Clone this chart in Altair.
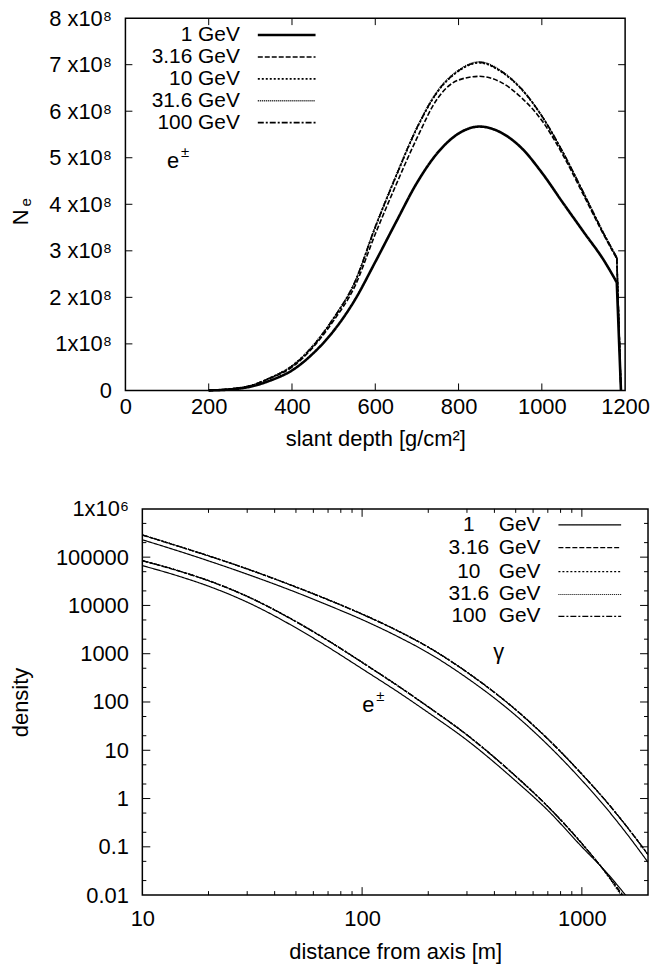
import altair as alt
import pandas as pd

FONT = "Liberation Sans"

# ---------------- data: top panel (e+- longitudinal profile) ----------------
ENERGIES = ["1 GeV", "3.16 GeV", "10 GeV", "31.6 GeV", "100 GeV"]
DEPTH = [200, 250, 300, 350, 400, 450, 500, 550, 600, 650, 700, 750, 800,
         850, 900, 950, 1000, 1050, 1100, 1150, 1180, 1190]
NE_1 = [0, 0.02e8, 0.08e8, 0.22e8, 0.43e8, 0.79e8, 1.28e8, 1.93e8, 2.76e8, 3.62e8,
        4.46e8, 5.11e8, 5.52e8, 5.67e8, 5.55e8, 5.22e8, 4.68e8, 4.04e8, 3.41e8,
        2.78e8, 2.32e8, 0]
NE_316 = [0, 0.03e8, 0.10e8, 0.27e8, 0.50e8, 0.92e8, 1.50e8, 2.22e8, 3.36e8, 4.42e8,
          5.42e8, 6.28e8, 6.67e8, 6.75e8, 6.63e8, 6.30e8, 5.80e8, 5.07e8, 4.20e8,
          3.32e8, 2.83e8, 0]
NE_10 = [0, 0.03e8, 0.10e8, 0.28e8, 0.52e8, 0.95e8, 1.55e8, 2.30e8, 3.50e8, 4.60e8,
         5.63e8, 6.42e8, 6.86e8, 7.04e8, 6.86e8, 6.48e8, 5.89e8, 5.12e8, 4.24e8,
         3.34e8, 2.84e8, 0]
NE_316B = [0, 0.03e8, 0.10e8, 0.28e8, 0.53e8, 0.96e8, 1.56e8, 2.31e8, 3.52e8, 4.62e8,
           5.65e8, 6.44e8, 6.88e8, 7.06e8, 6.88e8, 6.49e8, 5.90e8, 5.13e8, 4.25e8,
           3.35e8, 2.85e8, 0]
NE_100 = [0, 0.03e8, 0.10e8, 0.28e8, 0.52e8, 0.95e8, 1.55e8, 2.31e8, 3.51e8, 4.61e8,
          5.64e8, 6.43e8, 6.87e8, 7.05e8, 6.87e8, 6.49e8, 5.90e8, 5.13e8, 4.25e8,
          3.35e8, 2.86e8, 0]
TOP_SERIES = [NE_1, NE_316, NE_10, NE_316B, NE_100]

# ---------------- data: bottom panel (lateral densities) ----------------
R_GAMMA = [10, 15, 20, 30, 50, 70, 100, 150, 200, 300, 500, 700, 1000, 1300, 1600, 2000]
GAMMA_1 = [229100, 128800, 83750, 44360, 18710, 10090, 5082, 2104, 1040, 314.8, 52.6,
           12.88, 2.382, 0.611, 0.187, 0.0479]
GAMMA_316 = [285500, 160600, 105600, 56580, 23860, 13020, 6556, 2745, 1357, 410.9, 68.6,
             17.01, 3.18, 0.835, 0.261, 0.0685]
GAMMA_10 = [288400, 162200, 106700, 57150, 24100, 13150, 6622, 2773, 1371, 415.0, 69.3,
            17.18, 3.214, 0.843, 0.264, 0.0692]
GAMMA_316B = [289800, 163000, 107200, 57440, 24220, 13220, 6655, 2787, 1378, 417.1, 69.6,
              17.27, 3.23, 0.847, 0.265, 0.0695]
GAMMA_100 = [289000, 162500, 106900, 57260, 24150, 13180, 6635, 2779, 1374, 415.8, 69.4,
             17.21, 3.22, 0.845, 0.2645, 0.0693]
GAMMA_SERIES = [GAMMA_1, GAMMA_316, GAMMA_10, GAMMA_316B, GAMMA_100]

R_EPM = [10, 15, 20, 30, 50, 70, 100, 150, 200, 300, 500, 700, 1000, 1300, 1600]
EPM_1 = [66830, 38990, 25060, 11690, 3436, 1371, 486.4, 147.6, 60.26, 16.18, 2.312, 0.5702,
         0.0998, 0.0289, 0.00933]
EPM_316 = [84260, 49730, 32330, 15270, 4588, 1852, 657.1, 194.8, 78.6, 20.63, 2.882, 0.6786,
           0.1160, 0.0275, 0.0078]
EPM_10 = [85110, 50230, 32660, 15420, 4634, 1871, 663.7, 196.8, 79.4, 20.84, 2.911, 0.6855,
          0.1172, 0.02698, 0.007015]
EPM_316B = [85540, 50480, 32820, 15500, 4657, 1880, 667.0, 197.8, 79.8, 20.94, 2.926, 0.689,
            0.1178, 0.0265, 0.0065]
EPM_100 = [85280, 50330, 32730, 15450, 4643, 1875, 665.0, 197.2, 79.6, 20.88, 2.917, 0.6869,
           0.1174, 0.0272, 0.0072]
EPM_SERIES = [EPM_1, EPM_316, EPM_10, EPM_316B, EPM_100]

# ---------------- tick values ----------------
TOP_X_LABELS = [0, 200, 400, 600, 800, 1000, 1200]
TOP_Y_LABELS = [0, 1e8, 2e8, 3e8, 4e8, 5e8, 6e8, 7e8, 8e8]
BOT_X_LABELS = [10, 100, 1000]
BOT_X_MINOR = [20, 30, 40, 50, 60, 70, 80, 90, 200, 300, 400, 500, 600, 700, 800, 900]
BOT_Y_LABELS = [0.01, 0.1, 1, 10, 100, 1000, 10000, 100000, 1000000]
BOT_Y_MINOR = [0.02, 0.05, 0.2, 0.5, 2, 5, 20, 50, 200, 500, 2000, 5000,
               20000, 50000, 200000, 500000]

# ---------------- styles ----------------
DASHES = [[1, 0], [5, 2], [2, 2], [1, 1], [6, 2, 2, 2]]
TOP_WIDTHS = [2.6, 1.6, 1.6, 1.6, 1.6]
BOT_WIDTHS = [1.2, 1.2, 1.2, 1.2, 1.2]

W1, H1 = 502, 374
SHIFT = 17                 # bottom frame starts this far right of the top frame
W2, H2 = 508, 388
W2V = W2 + SHIFT

top_x = alt.Scale(domain=[0, 1200], nice=False, zero=False)
top_y = alt.Scale(domain=[0, 8e8], nice=False)
bot_x = alt.Scale(type="log", domain=[10, 2000], nice=False, range=[SHIFT, W2V])
bot_y = alt.Scale(type="log", domain=[0.01, 1e6], nice=False)

TOP_XAX = alt.Axis(values=TOP_X_LABELS, format="d", title="slant depth [g/cm²]",
                   ticks=False, domain=False, grid=False, labelFlush=False,
                   labelPadding=6, titlePadding=11)
TOP_YAX = alt.Axis(values=TOP_Y_LABELS, title=None, ticks=False, domain=False, grid=False,
                   labelPadding=14,
                   labelExpr="datum.value == 0 ? '0' : (datum.value == 100000000 ? '1x10⁸' : format(datum.value/100000000, 'd') + ' x10⁸')")
BOT_XAX = alt.Axis(values=BOT_X_LABELS, format="d", title="distance from axis [m]",
                   ticks=False, domain=False, grid=False, labelFlush=False,
                   labelPadding=14, titlePadding=12)
BOT_YAX = alt.Axis(values=BOT_Y_LABELS, title="density", ticks=False, domain=False,
                   grid=False, labelPadding=14, titlePadding=23, offset=-SHIFT,
                   labelExpr="datum.value >= 999999 ? '1x10⁶' : (datum.value < 0.05 ? '0.01' : (datum.value < 0.5 ? '0.1' : format(datum.value, 'd')))")


def text(s, x, y, size=22, align="left", baseline="alphabetic", angle=0):
    kw = dict(text=s, fontSize=size, font=FONT, align=align, baseline=baseline, color="black")
    if angle:
        kw["angle"] = angle
    return alt.Chart(pd.DataFrame({"t": [s]})).mark_text(**kw).encode(
        x=alt.value(x), y=alt.value(y))


def xticks(vals, scale, axis, y0, y1):
    return alt.Chart(pd.DataFrame({"v": vals})).mark_rule(color="black", strokeWidth=1).encode(
        x=alt.X("v:Q", scale=scale, axis=axis), y=alt.value(y0), y2=alt.value(y1))


def yticks(vals, scale, axis, x0, x1):
    return alt.Chart(pd.DataFrame({"v": vals})).mark_rule(color="black", strokeWidth=1).encode(
        y=alt.Y("v:Q", scale=scale, axis=axis), x=alt.value(x0), x2=alt.value(x1))


# ---------------- top panel ----------------
top_layers = []
for i, (name, vals) in enumerate(zip(ENERGIES, TOP_SERIES)):
    body = pd.DataFrame({"depth": DEPTH[:-1], "ne": vals[:-1]})
    drop = pd.DataFrame({"depth": DEPTH[-2:], "ne": vals[-2:]})
    for d, interp in ((body, "monotone"), (drop, "linear")):
        top_layers.append(
            alt.Chart(d).mark_line(color="black", strokeWidth=TOP_WIDTHS[i],
                                   strokeDash=DASHES[i], interpolate=interp).encode(
                x=alt.X("depth:Q", scale=top_x, axis=TOP_XAX),
                y=alt.Y("ne:Q", scale=top_y, axis=TOP_YAX),
            )
        )

top_layers += [
    yticks(TOP_Y_LABELS[1:-1], top_y, TOP_YAX, 0, 7),
    yticks(TOP_Y_LABELS[1:-1], top_y, TOP_YAX, W1 - 7, W1),
    xticks(TOP_X_LABELS[1:-1], top_x, TOP_XAX, H1 - 7, H1),
    xticks(TOP_X_LABELS[1:-1], top_x, TOP_XAX, 0, 7),
]
TOP_ROWS = [17, 39, 61, 83, 105]
for i, name in enumerate(ENERGIES):
    top_layers.append(text(name, 115, TOP_ROWS[i], size=21, align="right", baseline="middle"))
    top_layers.append(
        alt.Chart(pd.DataFrame({"e": [name]})).mark_rule(
            color="black", strokeWidth=TOP_WIDTHS[i], strokeDash=DASHES[i]).encode(
            x=alt.value(133), x2=alt.value(191), y=alt.value(TOP_ROWS[i])))
top_layers += [
    text("e", 48, 151, align="center"),
    text("±", 60, 139, size=15, align="center"),
    text("N", -105, 200, angle=270, align="center", baseline="middle"),
    text("e", -100, 185, size=15, angle=270, align="center", baseline="middle"),
]
top = alt.layer(*top_layers).properties(width=W1, height=H1)

# ---------------- bottom panel ----------------
bot_layers = [
    alt.Chart(pd.DataFrame({"f": [0]})).mark_rect(
        fillOpacity=0, stroke="black", strokeWidth=1.5).encode(
        x=alt.value(SHIFT), x2=alt.value(W2V), y=alt.value(0), y2=alt.value(H2))
]
for i, name in enumerate(ENERGIES):
    df = pd.concat([
        pd.DataFrame({"r": R_GAMMA, "rho": GAMMA_SERIES[i], "part": "gamma"}),
        pd.DataFrame({"r": R_EPM, "rho": EPM_SERIES[i], "part": "epm"}),
    ])
    bot_layers.append(
        alt.Chart(df).mark_line(color="black", strokeWidth=BOT_WIDTHS[i], strokeDash=DASHES[i],
                                interpolate="monotone", clip=True).encode(
            x=alt.X("r:Q", scale=bot_x, axis=BOT_XAX),
            y=alt.Y("rho:Q", scale=bot_y, axis=BOT_YAX),
            detail="part:N",
        )
    )

bot_layers += [
    yticks(BOT_Y_LABELS[1:-1], bot_y, BOT_YAX, SHIFT, SHIFT + 8),
    yticks(BOT_Y_MINOR, bot_y, BOT_YAX, SHIFT, SHIFT + 4),
    yticks(BOT_Y_LABELS[1:-1], bot_y, BOT_YAX, W2V - 8, W2V),
    yticks(BOT_Y_MINOR, bot_y, BOT_YAX, W2V - 4, W2V),
    xticks([100, 1000], bot_x, BOT_XAX, H2 - 8, H2),
    xticks(BOT_X_MINOR, bot_x, BOT_XAX, H2 - 4, H2),
    xticks([100, 1000], bot_x, BOT_XAX, 0, 8),
    xticks(BOT_X_MINOR, bot_x, BOT_XAX, 0, 4),
]
BOT_ROWS = [16, 39, 63, 86, 108]
BOT_NUMS = ["1", "3.16", "10", "31.6", "100"]
for i, name in enumerate(ENERGIES):
    bot_layers.append(text(BOT_NUMS[i], SHIFT + 328, BOT_ROWS[i], size=21, align="center",
                           baseline="middle"))
    bot_layers.append(text("GeV", SHIFT + 358, BOT_ROWS[i], size=21, align="left",
                           baseline="middle"))
    bot_layers.append(
        alt.Chart(pd.DataFrame({"e": [name]})).mark_rule(
            color="black", strokeWidth=BOT_WIDTHS[i], strokeDash=DASHES[i]).encode(
            x=alt.value(SHIFT + 418), x2=alt.value(SHIFT + 481), y=alt.value(BOT_ROWS[i])))
bot_layers += [
    text("γ", SHIFT + 358, 151, align="center"),
    text("e", SHIFT + 227, 204, align="center"),
    text("±", SHIFT + 239, 193, size=15, align="center"),
]
bottom = alt.layer(*bot_layers).properties(
    width=W2V, height=H2, view=alt.ViewBackground(stroke=None))

chart = alt.ConcatChart(
    concat=[top, bottom], columns=1, spacing=48,
    padding={"left": 9, "top": 4, "right": 0, "bottom": 0},
).configure(
    background="white"
).configure_view(
    stroke="black", strokeWidth=1.5
).configure_axis(
    labelFont=FONT, labelFontSize=22, labelColor="black",
    titleFont=FONT, titleFontSize=22, titleColor="black", titleFontWeight="normal"
)

chart.save("out.html", embed_options={"renderer": "svg", "actions": False})
